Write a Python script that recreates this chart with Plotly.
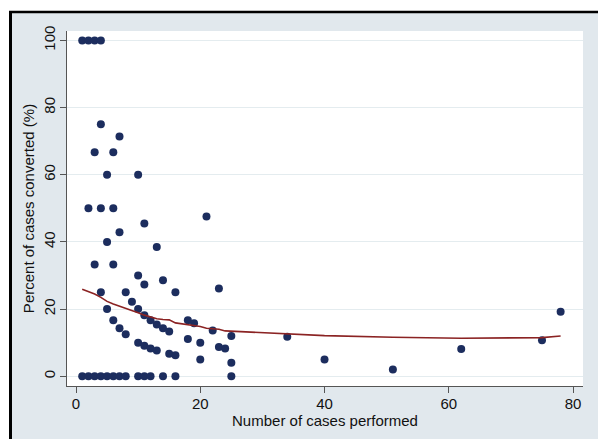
import plotly.graph_objects as go

# Scatter data: number of cases performed vs percent converted
cases = [1, 2, 3, 4,
         4, 7, 3, 6, 5, 10, 2, 4, 6, 21, 11, 7,
         3, 5, 6, 13, 4, 5, 6, 7, 8, 8, 9, 10, 10, 11, 11, 10, 11,
         12, 12, 13, 13, 14, 14, 15, 15, 16, 16, 18, 18, 19, 20, 20,
         22, 23, 23, 24, 25, 25, 34, 40, 51, 62, 75, 78,
         1, 2, 3, 4, 5, 6, 7, 8, 10, 11, 12, 14, 16, 25]
pct_converted = [100, 100, 100, 100,
                 75, 71.4, 66.7, 66.7, 60, 60, 50, 50, 50, 47.6, 45.5, 42.9,
                 33.3, 40, 33.3, 38.5, 25, 20, 16.7, 14.3, 12.5, 25, 22.2, 30, 20, 27.3, 18.2, 10, 9.1,
                 16.7, 8.3, 15.4, 7.7, 28.6, 14.3, 13.3, 6.7, 25, 6.25, 16.7, 11.1, 15.8, 10, 5,
                 13.6, 26.1, 8.7, 8.3, 12, 4, 11.8, 5, 2, 8.1, 10.7, 19.2,
                 0, 0, 0, 0, 0, 0, 0, 0, 0, 0, 0, 0, 0, 0]

# Lowess smoother values
lowess_x = [1, 2, 3, 4, 5, 6, 7, 8, 9, 10, 11, 12, 13, 14, 15, 16, 18, 19, 20,
            21, 22, 23, 24, 25, 34, 40, 51, 62, 75, 78]
lowess_y = [25.9, 25.2, 24.5, 23.5, 22.3, 21.5, 20.9, 20.2, 19.6, 18.9, 18.2, 17.6,
            17.1, 16.9, 16.8, 15.9, 15.4, 15.2, 14.8, 14.3, 14.1, 14.0, 13.5, 13.4,
            12.7, 12.1, 11.6, 11.3, 11.5, 12.0]

x_ticks = [0, 20, 40, 60, 80]
y_ticks = [0, 20, 40, 60, 80, 100]

NAVY = "#1c2d5e"
MAROON = "#8b2323"
GRAY_BG = "#e1e8ed"
GRID = "#e4ecef"
FONT = "Liberation Sans, Arial, sans-serif"

fig = go.Figure()
fig.add_trace(go.Scatter(x=cases, y=pct_converted, mode="markers",
                         marker=dict(color=NAVY, size=8, line=dict(width=0)),
                         showlegend=False, cliponaxis=False))
fig.add_trace(go.Scatter(x=lowess_x, y=lowess_y, mode="lines",
                         line=dict(color=MAROON, width=1.6), showlegend=False))

W, H = 598, 439
L, R, T, B = 67, 15, 31, 53
pw, ph = W - L - R, H - T - B

def px_x(p):
    return (p - L) / pw

def px_y(p):
    return (H - B - p) / ph

shapes = [
    # white strips outside the framed region
    dict(type="rect", xref="paper", yref="paper", x0=px_x(0), x1=px_x(W),
         y0=px_y(11), y1=px_y(0), fillcolor="white", line=dict(width=0), layer="above"),
    dict(type="rect", xref="paper", yref="paper", x0=px_x(0), x1=px_x(9),
         y0=px_y(H), y1=px_y(0), fillcolor="white", line=dict(width=0), layer="above"),
    # black frame lines (top and left)
    dict(type="line", xref="paper", yref="paper", x0=px_x(9), x1=px_x(W),
         y0=px_y(12), y1=px_y(12), line=dict(color="black", width=2.5), layer="above"),
    dict(type="line", xref="paper", yref="paper", x0=px_x(10.5), x1=px_x(10.5),
         y0=px_y(11), y1=px_y(H), line=dict(color="black", width=3), layer="above"),
]

fig.update_layout(
    width=W, height=H,
    margin=dict(l=L, r=R, t=T, b=B, pad=0),
    paper_bgcolor=GRAY_BG, plot_bgcolor="white",
    font=dict(family=FONT, size=15, color="#111111"),
    shapes=shapes,
    xaxis=dict(range=[-1.45, 81.6], tickvals=x_ticks, ticks="outside", ticklen=6,
               tickcolor="#555555", showline=True, linecolor="#555555", linewidth=1,
               showgrid=False, zeroline=False, automargin=False,
               ticklabelstandoff=-2,
               title=dict(text="Number of cases performed", standoff=0,
                          font=dict(size=15)),
               tickfont=dict(size=15)),
    yaxis=dict(range=[-2.9, 102.8], tickvals=y_ticks, ticks="outside", ticklen=6,
               tickcolor="#555555", showline=True, linecolor="#555555", linewidth=1,
               showgrid=True, gridcolor=GRID, gridwidth=1, zeroline=False,
               tickangle=-90, automargin=False, ticklabelstandoff=-1,
               title=dict(text="Percent of cases converted (%)", standoff=2,
                          font=dict(size=15)),
               tickfont=dict(size=15)),
)

fig.write_html("out.html", config={"displayModeBar": False},
               post_script="document.body.style.margin='0px';")
